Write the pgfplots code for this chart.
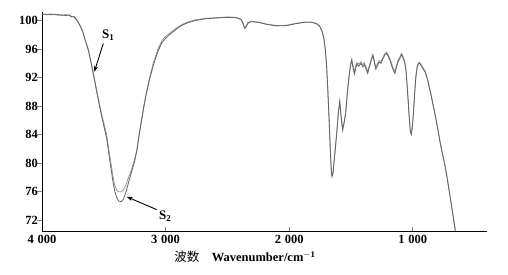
\documentclass[border=0pt]{standalone}
\usepackage{pgfplots}
\pgfplotsset{compat=1.18}
\usepackage{pgfplotstable}
\usepackage{fontspec}
\setmainfont{Liberation Serif}
\newfontfamily\cjk{Noto Sans CJK SC}
\usetikzlibrary{arrows.meta}
\definecolor{sone}{RGB}{150,150,150}
\definecolor{stwo}{RGB}{100,100,100}

\pgfplotstableread{
x y
4000 100.9
3960 100.8
3930 100.95
3900 100.8
3870 100.9
3840 100.7
3810 100.85
3780 100.7
3760 100.5
3740 100.6
3725 100.3
3710 99.9
3690 99.3
3670 98.5
3650 97.3
3625 96.0
3600 94.0
3577 92.0
3555 90.0
3531 88.0
3505 86.0
3477 84.0
3460 82.0
3442 80.0
3425 78.0
3410 76.8
3395 76.2
3380 76.0
3360 76.0
3340 76.3
3320 77.0
3300 78.0
3275 79.2
3250 80.6
3232 82.0
3215 84.0
3196 86.0
3177 88.0
3155 90.0
3129 92.0
3100 94.0
3062 96.0
3030 97.2
3000 97.8
2970 98.2
2940 98.6
2900 99.1
2860 99.5
2820 99.8
2760 100.1
2680 100.3
2600 100.4
2500 100.5
2430 100.45
2390 100.2
2372 99.6
2360 99.0
2348 99.2
2335 99.7
2310 99.9
2250 99.8
2180 99.5
2100 99.3
2020 99.35
1950 99.6
1880 99.8
1820 99.8
1780 99.6
1755 99.3
1735 98.6
1720 97.6
1708 96.0
1698 93.8
1688 90.5
1678 86.5
1668 82.3
1660 79.2
1654 78.4
1646 78.7
1638 80.2
1628 82.0
1615 84.5
1602 87.3
1591 88.8
1580 86.6
1568 84.9
1556 85.8
1543 87.2
1530 90.0
1516 92.3
1502 94.1
1494 94.6
1485 93.8
1472 92.8
1462 93.6
1452 94.1
1438 93.9
1420 94.2
1404 93.8
1392 94.1
1378 93.5
1365 92.9
1350 93.8
1336 94.6
1323 95.3
1312 94.5
1300 93.5
1288 93.9
1272 94.4
1258 94.3
1240 94.9
1225 95.4
1214 95.6
1200 95.2
1185 94.7
1170 93.9
1155 93.2
1145 92.9
1133 93.7
1120 94.4
1105 94.9
1092 95.4
1080 95.0
1068 94.4
1058 93.6
1048 91.5
1040 89.5
1030 86.8
1020 84.6
1012 84.2
1004 85.3
995 87.2
985 90.0
975 92.3
965 93.6
955 94.1
945 94.15
932 93.8
918 93.4
900 92.9
882 91.9
865 90.6
847 89.2
820 86.9
800 85.1
780 83.1
760 81.4
740 79.8
720 77.8
700 75.6
685 73.9
670 72.2
656 70.6
}\sone

\pgfplotstableread{
x y
4000 100.85
3960 100.9
3930 100.8
3900 100.9
3870 100.75
3840 100.8
3810 100.7
3780 100.8
3760 100.55
3740 100.5
3725 100.2
3710 99.8
3690 99.2
3670 98.4
3650 97.2
3625 95.8
3600 93.8
3577 91.8
3555 89.8
3531 87.7
3505 85.6
3477 83.5
3460 81.4
3442 79.3
3425 77.3
3410 76.0
3395 75.2
3380 74.7
3360 74.6
3340 75.0
3320 76.0
3300 77.3
3275 78.8
3250 80.3
3232 81.8
3215 83.8
3196 85.8
3177 87.8
3155 89.8
3129 91.8
3100 93.7
3062 95.7
3030 96.9
3000 97.5
2970 98.0
2940 98.4
2900 99.0
2860 99.4
2820 99.7
2760 100.0
2680 100.25
2600 100.35
2500 100.45
2430 100.4
2390 100.15
2372 99.5
2360 98.9
2348 99.1
2335 99.6
2310 99.85
2250 99.75
2180 99.45
2100 99.25
2020 99.3
1950 99.55
1880 99.75
1820 99.75
1780 99.55
1755 99.2
1735 98.5
1720 97.5
1708 95.9
1698 93.7
1688 90.3
1678 86.3
1668 82.0
1660 78.9
1654 78.1
1646 78.5
1638 80.0
1628 81.8
1615 84.3
1602 87.1
1591 88.6
1580 86.4
1568 84.6
1556 85.6
1543 87.0
1530 89.8
1516 92.1
1502 93.9
1494 94.4
1485 93.5
1472 92.5
1462 93.3
1452 93.9
1438 93.6
1420 94.0
1404 93.5
1392 93.8
1378 93.2
1365 92.6
1350 93.6
1336 94.4
1323 95.1
1312 94.2
1300 93.2
1288 93.6
1272 94.2
1258 94.0
1240 94.7
1225 95.2
1214 95.4
1200 95.0
1185 94.4
1170 93.6
1155 92.9
1145 92.6
1133 93.4
1120 94.2
1105 94.7
1092 95.2
1080 94.8
1068 94.2
1058 93.4
1048 91.3
1040 89.3
1030 86.6
1020 84.4
1012 84.0
1004 85.1
995 87.0
985 89.8
975 92.1
965 93.4
955 93.95
945 94.0
932 93.65
918 93.25
900 92.75
882 91.75
865 90.45
847 89.05
820 86.75
800 84.95
780 82.95
760 81.25
740 79.65
720 77.65
700 75.45
685 73.75
670 72.05
656 70.5
}\stwo

\begin{document}
\begin{tikzpicture}
\path[use as bounding box] (-42pt,-43pt) rectangle (466pt,231pt);
\begin{axis}[
  at={(0,0)}, anchor=south west,
  scale only axis,
  width=445pt, height=219pt,
  x dir=reverse,
  xmin=400, xmax=4000,
  ymin=70.5, ymax=101.2,
  axis x line*=bottom,
  axis y line*=left,
  axis line style={line width=0.8pt, -},
  tick align=inside,
  major tick length=4.5pt,
  ytick style={xshift=-4.5pt, line width=0.7pt},
  xtick style={line width=0.7pt},
  xtick={1000,2000,3000,4000},
  xticklabels={1\hspace{0.3em}000,2\hspace{0.3em}000,3\hspace{0.3em}000,4\hspace{0.3em}000},
  ytick={72,76,80,84,88,92,96,100},
  /pgf/number format/assume math mode=true,
  ticklabel style={font=\fontsize{12.5}{14}\selectfont\bfseries},
  yticklabel style={inner sep=1pt, xshift=-3pt},
  xticklabel style={yshift=-1pt},
  xlabel={{\cjk\mdseries 波数}\quad Wavenumber/cm$^{\mathbf{-1}}$},
  xlabel style={font=\fontsize{12.5}{14}\selectfont\bfseries, at={(axis description cs:0.456,-0.119)}, anchor=center},
  clip=false,
]
\addplot[no markers, color=sone, line width=0.8pt] table[x=x,y=y] {\sone};
\addplot[no markers, color=stwo, line width=0.8pt] table[x=x,y=y] {\stwo};
\node[font=\fontsize{13}{14}\selectfont\bfseries] at (axis cs:3466,98.0) {S\raisebox{-0.35ex}{\fontsize{9}{10}\selectfont\bfseries 1}};
\draw[-{Stealth[length=6pt,width=4pt]}, line width=0.9pt] (axis cs:3504,96.8) -- (axis cs:3577,92.8);
\node[font=\fontsize{13}{14}\selectfont\bfseries] at (axis cs:3005,72.6) {S\raisebox{-0.35ex}{\fontsize{9}{10}\selectfont\bfseries 2}};
\draw[-{Stealth[length=6pt,width=4pt]}, line width=0.9pt] (axis cs:3072,73.5) -- (axis cs:3315,75.3);
\end{axis}
\end{tikzpicture}
\end{document}
